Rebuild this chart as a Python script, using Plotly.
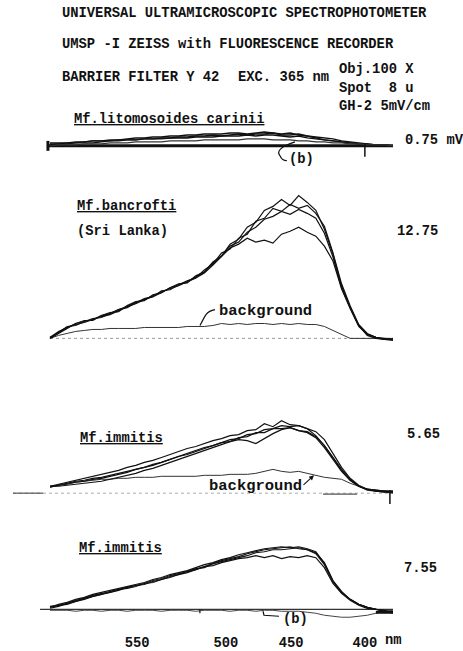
import plotly.graph_objects as go

# ---------------- data ----------------
# recorder position along the chart (arbitrary units, 0 = start of trace, 100 = end)
pos = [0, 2.5, 5, 7.5, 10, 12.5, 15, 17.5, 20, 22.5,
       25, 27.5, 30, 32.5, 35, 37.5, 40, 42.5, 45, 47.5,
       50, 52.5, 55, 57.5, 60, 62.5, 65, 67.5, 70, 72.5,
       75, 77.5, 80, 82.5, 85, 87.5, 90, 92.5, 95, 97.5, 100]

# wavelength tick labels and their recorder positions
wl_labels = ["550", "500", "450", "400"]
wl_pos = [25.4, 51.3, 70.3, 91.8]

# Panel 1: Mf. litomosoides carinii (0.75 mV)
lito_1 = [2,2,3,3,4,5,5,6,6,7, 8,8,9,9,10,10,11,11,12,12, 12,13,13,12,13,14,13,12,13,11, 10,8,6,5,4,3,2,2,1,1, 0]
lito_2 = [1,2,2,3,3,3,4,5,5,6, 6,7,7,8,8,9,9,10,10,11, 10,11,12,11,12,12,13,11,11,12, 10,9,8,7,5,4,3,2,1,1, 0]
lito_3 = [3,3,3,4,4,5,5,5,6,6, 6,7,7,7,8,8,8,9,9,9, 10,10,10,11,10,11,11,10,9,10, 8,7,6,5,4,3,2,1,1,0, 0]
lito_b = [0,1,1,1,2,2,2,3,3,3, 4,4,4,4,5,5,5,5,6,6, 6,6,6,7,7,7,6,6,6,5, 5,4,4,3,3,2,2,1,1,1, 0]

# Panel 2: Mf. bancrofti (Sri Lanka) (12.75)
banc_1 = [0,5,10,15,18,18,23,26,27,33, 37,38,44,46,51,55,56,63,67,77, 83,95,100,112,117,129,133,140,134,144, 137,129,110,85,53,31,13,3,0,-1, -2]
banc_2 = [1,6,12,13,17,20,21,25,29,31, 36,40,42,48,49,54,58,61,69,75, 86,90,101,105,118,121,131,128,135,131, 134,126,113,86,55,33,14,5,1,-1, -1]
banc_3 = [1,7,11,14,16,19,22,24,28,32, 35,39,43,47,50,53,57,62,67,76, 83,93,97,107,112,120,123,128,125,130, 126,121,106,82,51,31,13,4,1,0, -1]
banc_4 = [0,6,11,15,17,19,23,25,29,32, 36,39,42,46,51,54,57,61,66,74, 82,91,95,101,97,99,96,105,108,112, 107,103,93,78,50,30,12,4,1,-1, -1]
banc_bg = [0,3,5,7,8,9,9,10,10,10, 10,11,11,11,11,11,12,12,12,13, 15,14,15,14,15,15,14,15,14,15, 14,14,12,8,4,0,0,0,0,0, 0]

# Panel 3: Mf. immitis (5.65)
imm1_1 = [7,9,11,13,15,17,19,21,23,26, 28,31,33,36,39,42,45,47,50,53, 55,58,59,63,64,70,67,73,69,68, 65,58,48,35,23,13,7,4,3,2, 2]
imm1_2 = [6,8,10,12,13,15,16,18,20,22, 24,26,29,31,34,37,40,43,46,48, 51,54,55,59,60,64,65,68,67,68, 65,62,54,40,26,15,8,4,3,2, 2]
imm1_3 = [7,8,9,11,12,14,15,17,19,21, 24,26,28,31,34,37,39,42,45,48, 51,52,56,57,61,61,65,65,66,63, 62,57,48,36,24,14,7,4,2,2, 1]
imm1_4 = [7,7,8,9,10,11,12,14,16,18, 20,23,25,28,31,34,37,40,43,46, 49,52,54,53,50,55,60,64,66,63, 61,56,46,34,22,13,7,3,2,1, 1]
imm1_bg = [6,8,10,11,12,13,14,14,15,15, 16,16,16,17,17,17,17,17,18,18, 18,19,19,19,20,22,24,22,21,22, 20,18,16,15,14,10,7,4,2,1, 0]

# Panel 4: Mf. immitis (7.55)
imm2_1 = [2,5,7,10,12,15,17,19,21,23, 25,27,30,32,35,37,39,42,45,47, 50,52,55,57,59,61,62,63,62,63, 61,58,46,28,17,10,5,2,0,-2, -3]
imm2_2 = [1,3,6,8,10,13,15,17,19,22, 24,25,28,30,32,35,38,41,42,46, 48,50,52,54,57,58,60,60,61,62, 60,57,47,29,18,10,5,2,0,-2, -3]
imm2_3 = [3,4,5,8,11,13,15,18,20,21, 23,26,27,30,33,35,37,40,43,44, 47,49,51,52,54,52,54,51,53,52, 54,52,42,26,16,9,4,1,0,-2, -4]
imm2_4 = [2,4,6,9,11,14,16,17,20,22, 24,26,29,31,34,36,38,40,43,46, 49,51,53,56,58,60,61,62,63,61, 60,56,45,28,17,10,5,2,0,-1, -3]
imm2_b = [-1,-1,-1,-2,-1,-1,-2,-1,-1,-2, -1,-1,-1,-2,-1,-1,-1,-2,-1,-1, -1,-2,-1,-1,-2,-1,-1,-2,-2,-2, -3,-4,-6,-7,-8,-8,-7,-6,-4,-2, -1]

# baseline extents and small pen marks (recorder positions / deflections)
lito_base_x = [-0.6, 100]
lito_tick_x = [91.8, 91.8]; lito_tick_y = [2, -11]
lito_start_x = [-0.6, -0.6]; lito_start_y = [5, -5]
banc_base_x = [0, 100]
imm1_base_x = [-10.8, 100]
imm1_dark_x1 = [-10.8, -2.0]
imm1_dark_x2 = [79.6, 89.5]
imm1_tick_x = [99.1, 99.1]; imm1_tick_y = [3, -11]
imm2_base_x = [-2.9, 100]
imm2_tick_x = [43.7, 43.7]; imm2_tick_y = [0, -4]
imm2_end_x = [95, 100]; imm2_end_y = [-3, -3]

# ---------------- figure ----------------
W, H = 463, 651
PX_PER_UNIT = 3.43
X0_PX = 50
MONO = "Liberation Mono"
INK = "#111111"

def px(x):
    return x / W

def py(y):
    return 1 - y / H

fig = go.Figure()

# panel baselines in pixels (for axis ranges: 1 unit = 1 px vertically)
panel_base = {"y": 147, "y2": 341, "y3": 497, "y4": 614}

def line(x, y, axis, color=INK, width=1.2, dash="solid"):
    fig.add_trace(go.Scatter(x=x, y=y, yaxis=axis, mode="lines",
                             line=dict(color=color, width=width, dash=dash, shape="linear"),
                             hoverinfo="skip", showlegend=False))

# Panel 1
line(lito_base_x, [0, 0], "y", width=3)
for c in (lito_1, lito_2, lito_3):
    line(pos, c, "y", width=1.4)
line(pos, lito_b, "y", color="#333", width=1.1)
line(lito_tick_x, lito_tick_y, "y", width=1.5)
line(lito_start_x, lito_start_y, "y", width=3)

# Panel 2
line(banc_base_x, [0, 0], "y2", color="#999", width=1, dash="dot")
line(pos, banc_bg, "y2", color="#333", width=1)
for c in (banc_1, banc_2, banc_3, banc_4):
    line(pos, c, "y2", width=1.2)

# Panel 3
line(imm1_base_x, [0, 0], "y3", color="#aaa", width=1, dash="dot")
line(imm1_dark_x1, [0, 0], "y3", color="#555", width=1.2)
line(imm1_dark_x2, [-1, -1], "y3", color="#555", width=1.2)
line(pos, imm1_bg, "y3", color="#333", width=1)
for c in (imm1_1, imm1_2, imm1_3, imm1_4):
    line(pos, c, "y3", width=1.2)
line(imm1_tick_x, imm1_tick_y, "y3", width=1.5)

# Panel 4
line(imm2_base_x, [0, 0], "y4", color="#333", width=1.3)
line(pos, imm2_b, "y4", color="#444", width=1)
for c in (imm2_1, imm2_2, imm2_3, imm2_4):
    line(pos, c, "y4", width=1.2)
line(imm2_tick_x, imm2_tick_y, "y4", width=1.2)
line(imm2_end_x, imm2_end_y, "y4", width=3)

# axes
x_lo = -X0_PX / PX_PER_UNIT
x_hi = (W - X0_PX) / PX_PER_UNIT
layout_axes = {}
for i, key in enumerate(["y", "y2", "y3", "y4"]):
    name = "yaxis" if key == "y" else "yaxis" + key[1:]
    yb = panel_base[key]
    ax = dict(domain=[0, 1], range=[yb - H, yb], visible=False, fixedrange=True)
    if key != "y":
        ax["overlaying"] = "y"
    layout_axes[name] = ax

fig.update_layout(
    width=W, height=H,
    margin=dict(l=0, r=0, t=0, b=0),
    paper_bgcolor="white", plot_bgcolor="white",
    xaxis=dict(domain=[0, 1], range=[x_lo, x_hi], anchor="free", position=py(637),
               tickvals=wl_pos, ticktext=wl_labels, ticks="", showline=False,
               showgrid=False, zeroline=False,
               tickfont=dict(family=MONO, size=13.8, color=INK, weight="bold")),
    **layout_axes,
)

def text(s, x, y, size=13.8, anchor="left"):
    fig.add_annotation(text=s, x=px(x), y=py(y), xref="paper", yref="paper",
                       xanchor=anchor, yanchor="middle", showarrow=False,
                       font=dict(family=MONO, size=size, color=INK, weight="bold"))

text("UNIVERSAL ULTRAMICROSCOPIC SPECTROPHOTOMETER", 60, 14)
text("UMSP -I ZEISS with FLUORESCENCE RECORDER", 60, 45)
text("BARRIER FILTER Y 42", 60, 78)
text("EXC. 365 nm", 236, 78)
text("Obj.100 X", 337, 70)
text("Spot  8 u", 337, 89)
text("GH-2 5mV/cm", 337, 107)
text("<u>Mf.litomosoides carinii</u>", 72, 120)
text("0.75 mV", 403, 142)
text("(b)", 287, 161)
text("<u>Mf.bancrofti</u>", 75, 208)
text("(Sri Lanka)", 75, 233)
text("12.75", 395, 233)
text("background", 217, 313, size=15.5)
text("<u>Mf.immitis</u>", 78, 442)
text("5.65", 405, 438)
text("background", 207, 490, size=15.5)
text("<u>Mf.immitis</u>", 77, 553)
text("7.55", 402, 573)
text("(b)", 281, 624)
text("nm", 393, 645, anchor="center")

def path(cmds):
    out = []
    for c in cmds:
        if isinstance(c, str):
            out.append(c)
        else:
            out.append(f"{px(c[0]):.5f},{py(c[1]):.5f}")
    return " ".join(out)

hook_style = dict(type="path", xref="paper", yref="paper", line=dict(color=INK, width=1.2))
fig.add_shape(path=path(["M", (295, 143), "Q", (274, 150), (280, 157), "Q", (282, 162), (287, 162)]), **hook_style)
fig.add_shape(path=path(["M", (200, 328), "Q", (204, 320), (206, 317), "Q", (209, 313), (215, 312)]), **hook_style)
fig.add_shape(path=path(["M", (263, 616), "L", (264, 620), "L", (279, 621)]), **hook_style)

fig.add_annotation(x=px(314), y=py(479), xref="paper", yref="paper", text="",
                   showarrow=True, ax=-12, ay=11, arrowhead=2, arrowsize=0.9,
                   arrowwidth=1.1, arrowcolor=INK)

fig.write_html("out.html")
